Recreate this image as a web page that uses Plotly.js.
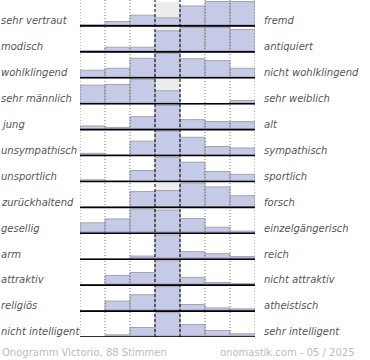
<!DOCTYPE html>
<html><head><meta charset="utf-8">
<script src="https://cdn.plot.ly/plotly-3.0.1.min.js"></script>
<style>html,body{margin:0;padding:0;background:#fff}#c{width:370px;height:360px}</style>
</head><body><div id="c"></div>
<script>
const leftLabels = ["sehr vertraut","modisch","wohlklingend","sehr männlich","jung","unsympathisch","unsportlich","zurückhaltend","gesellig","arm","attraktiv","religiös","nicht intelligent"];
const rightLabels = ["fremd","antiquiert","nicht wohlklingend","sehr weiblich","alt","sympathisch","sportlich","forsch","einzelgängerisch","reich","nicht attraktiv","atheistisch","sehr intelligent"];
const columns = [0,1,2,3,4,5,6];
// relative share per row (percent of the row maximum)
const v01 = [5, 18, 44, 33, 82, 100, 100];
const v02 = [5, 19, 19, 86, 100, 100, 92];
const v03 = [31, 39, 80, 100, 78, 70, 39];
const v04 = [76, 79, 100, 53, 0, 0, 13];
const v05 = [15, 9, 53, 100, 41, 33, 33];
const v06 = [9, 4, 59, 100, 75, 37, 31];
const v07 = [7, 4, 45, 100, 79, 41, 29];
const v08 = [0, 0, 65, 69, 100, 84, 48];
const v09 = [43, 59, 100, 95, 61, 25, 9];
const v10 = [0, 0, 13, 100, 31, 23, 11];
const v11 = [0, 40, 52, 100, 32, 11, 3];
const v12 = [0, 41, 67, 100, 27, 13, 9];
const v13 = [0, 9, 39, 100, 51, 27, 13];
const rows = [v01,v02,v03,v04,v05,v06,v07,v08,v09,v10,v11,v12,v13];
const footerLeft = "Onogramm Victorio, 88 Stimmen";
const footerRight = "onomastik.com - 05 / 2025";

const N = rows.length;
const SCALE = 0.94;
const traces = [];
// neutral column background
traces.push({type:'bar', x: rows.map(()=>3), y: rows.map(()=>SCALE), base: rows.map((r,i)=>N-1-i),
  width:1, marker:{color:'#ececec', line:{width:0}}, hoverinfo:'skip', showlegend:false});
rows.forEach((r,i)=>{
  traces.push({type:'bar', x: columns, y: r.map(v=>v*SCALE/100), base: columns.map(()=>N-1-i),
    width:1, marker:{color:'#c5cbe7', line:{color:'#a4a4ae', width:1}}, hoverinfo:'skip', showlegend:false});
  // bottom tint
  traces.push({type:'bar', x: columns, y: r.map(v=>v>0?0.07:0), base: columns.map(()=>N-1-i),
    width:1, marker:{color:'#b5abd7', line:{width:0}}, hoverinfo:'skip', showlegend:false});
});
const shapes = [];
[-0.5,0.5,1.5,4.5,5.5,6.5].forEach(x=>shapes.push({type:'line', xref:'x', yref:'y', x0:x, x1:x, y0:0, y1:N, layer:'above', line:{color:'#777', width:1, dash:'1px,2px'}}));
[2.5,3.5].forEach(x=>shapes.push({type:'line', xref:'x', yref:'y', x0:x, x1:x, y0:0, y1:N, layer:'above', line:{color:'#000', width:1, dash:'3px,2px'}}));
rows.forEach((r,i)=>shapes.push({type:'line', xref:'x', yref:'y', x0:-0.5, x1:6.5, y0:N-1-i, y1:N-1-i, layer:'above', line:{color:'#000', width:1.6}}));
const annotations = [];
const lf = {family:'DejaVu Sans', size:10, color:'#555'};
leftLabels.forEach((t,i)=>annotations.push({text:'<i>'+t+'</i>', xref:'paper', yref:'y', x:-81/175, y:N-1-i+0.2, xanchor:'left', yanchor:'middle', showarrow:false, font:lf}));
rightLabels.forEach((t,i)=>annotations.push({text:'<i>'+t+'</i>', xref:'paper', yref:'y', x:1+7/175, y:N-1-i+0.2, xanchor:'left', yanchor:'middle', showarrow:false, font:lf}));
const ff = {family:'DejaVu Sans', size:10, color:'#bbb'};
annotations.push({text:footerLeft, xref:'paper', yref:'paper', x:-80/175, y:-15/337, xanchor:'left', yanchor:'middle', showarrow:false, font:ff});
annotations.push({text:footerRight, xref:'paper', yref:'paper', x:138/175, y:-15/337, xanchor:'left', yanchor:'middle', showarrow:false, font:ff});
Plotly.newPlot('c', traces, {
  width:370, height:360, margin:{l:80, r:115, t:0, b:23},
  paper_bgcolor:'#fff', plot_bgcolor:'#fff', barmode:'overlay', bargap:0,
  xaxis:{range:[-0.5,6.5], showgrid:false, zeroline:false, showticklabels:false, ticks:'', fixedrange:true},
  yaxis:{range:[0,N], showgrid:false, zeroline:false, showticklabels:false, ticks:'', fixedrange:true},
  shapes, annotations, showlegend:false
}, {staticPlot:true, displayModeBar:false});
</script></body></html>
